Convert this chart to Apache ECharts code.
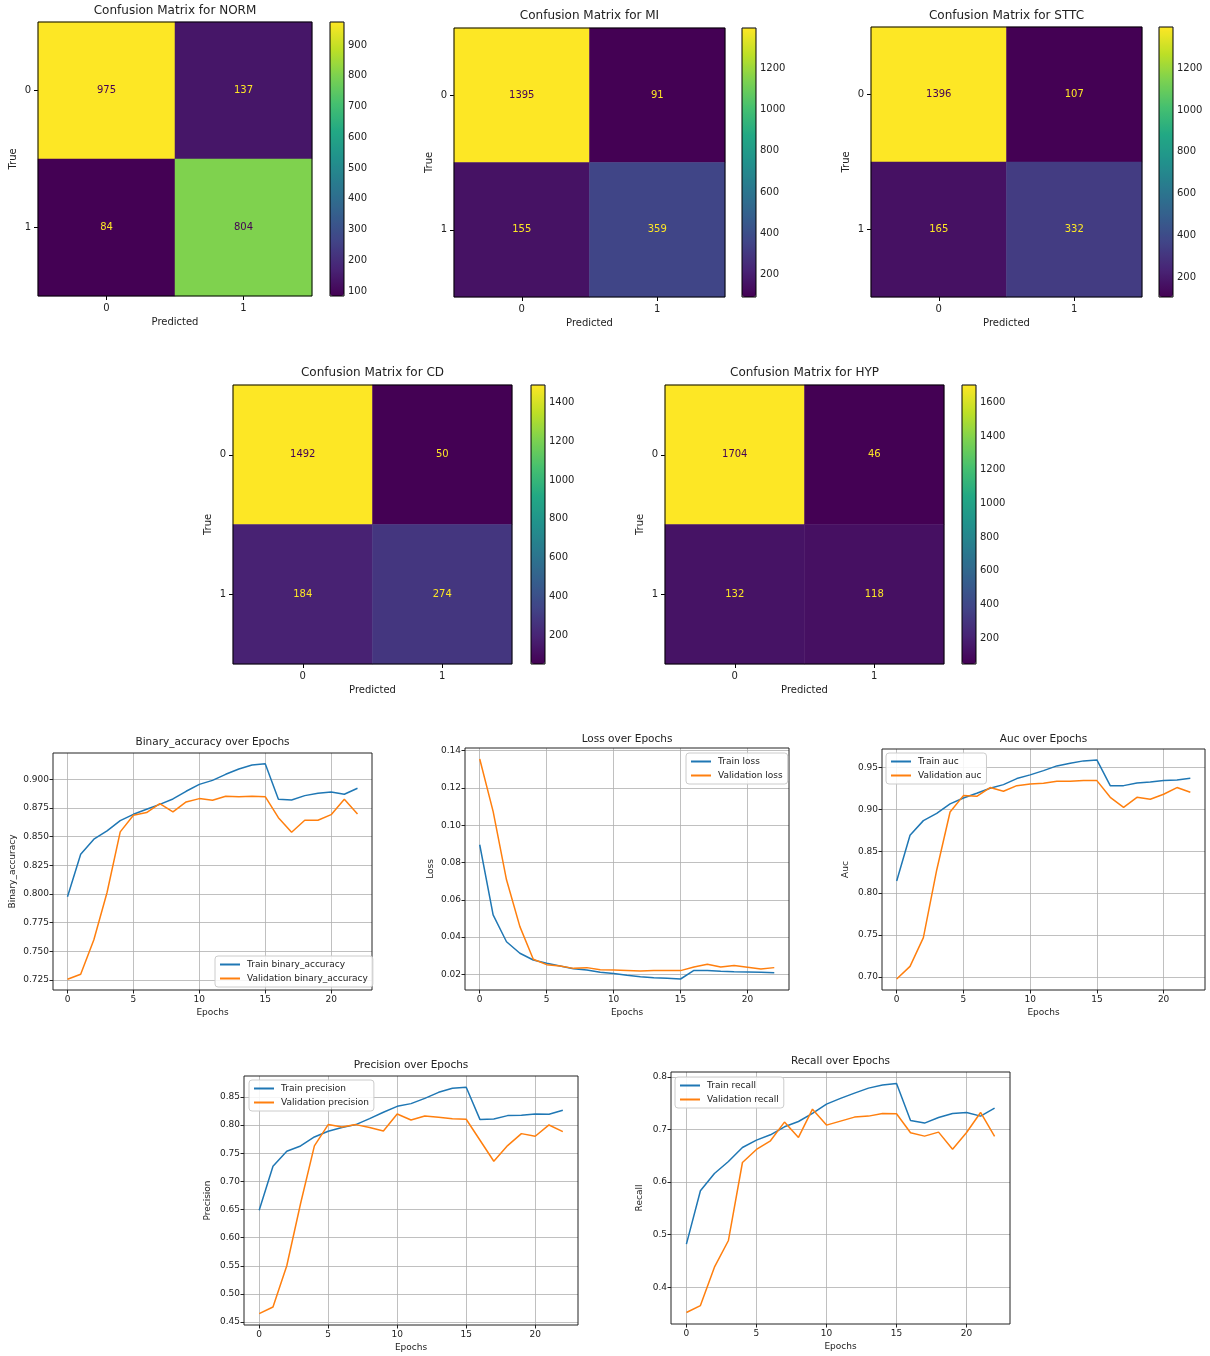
<!DOCTYPE html>
<html><head><meta charset="utf-8">
<script src="https://cdn.jsdelivr.net/npm/echarts@6/dist/echarts.min.js"></script>
<style>html,body{margin:0;padding:0;background:#fff}#c{width:1210px;height:1356px}</style>
</head><body><div id="c"></div>
<script>
// ---------------- DATA ----------------
const classes = ['0', '1'];
const cmNames = ['NORM', 'MI', 'STTC', 'CD', 'HYP'];
const cmNORM = [[975, 137], [84, 804]];
const cmMI = [[1395, 91], [155, 359]];
const cmSTTC = [[1396, 107], [165, 332]];
const cmCD = [[1492, 50], [184, 274]];
const cmHYP = [[1704, 46], [132, 118]];
const cbTicksNORM = [100, 200, 300, 400, 500, 600, 700, 800, 900];
const cbTicksMI = [200, 400, 600, 800, 1000, 1200];
const cbTicksSTTC = [200, 400, 600, 800, 1000, 1200];
const cbTicksCD = [200, 400, 600, 800, 1000, 1200, 1400];
const cbTicksHYP = [200, 400, 600, 800, 1000, 1200, 1400, 1600];

const epochs = [0,1,2,3,4,5,6,7,8,9,10,11,12,13,14,15,16,17,18,19,20,21,22];
const trainAcc = [0.7976,0.8347,0.8478,0.855,0.864,0.8695,0.8739,0.8782,0.8829,0.8896,0.8956,0.8991,0.9044,0.909,0.9125,0.9136,0.8826,0.882,0.8858,0.8878,0.889,0.887,0.8922];
const valAcc = [0.7256,0.73,0.76,0.8013,0.8542,0.8687,0.871,0.8788,0.8716,0.8803,0.8832,0.8817,0.8852,0.8849,0.8852,0.8849,0.8666,0.8539,0.8643,0.8643,0.8692,0.8826,0.8698];
const trainLoss = [0.0895,0.0519,0.0375,0.0313,0.0277,0.0259,0.0245,0.023,0.0223,0.0211,0.0204,0.0195,0.0187,0.0182,0.0179,0.0175,0.0221,0.0221,0.0216,0.0214,0.0213,0.0211,0.0209];
const valLoss = [0.1355,0.1074,0.0707,0.0456,0.0281,0.0252,0.0245,0.0232,0.0236,0.0225,0.0223,0.0221,0.0218,0.022,0.022,0.022,0.0239,0.0254,0.0239,0.0247,0.0238,0.0229,0.0236];
const trainAuc = [0.8145,0.8689,0.8864,0.8951,0.9063,0.9134,0.919,0.925,0.9293,0.9365,0.9409,0.946,0.9516,0.9548,0.9576,0.9587,0.9281,0.9281,0.9313,0.9325,0.9341,0.9349,0.9369];
const valAuc = [0.6976,0.7127,0.7469,0.8276,0.8967,0.9162,0.9154,0.9258,0.9214,0.9281,0.9301,0.9309,0.9333,0.9333,0.9341,0.9341,0.9142,0.9023,0.9142,0.9118,0.9178,0.9258,0.9202];
const trainPrec = [0.6488,0.7269,0.7536,0.763,0.779,0.7891,0.7956,0.8009,0.8115,0.8228,0.8334,0.8382,0.8476,0.8583,0.8654,0.8672,0.8098,0.8109,0.8169,0.8175,0.8198,0.8192,0.8263];
const valPrec = [0.4648,0.4766,0.55,0.6607,0.763,0.8009,0.7967,0.8009,0.7956,0.7896,0.8198,0.8092,0.8163,0.8139,0.8115,0.8104,0.7731,0.7358,0.7636,0.7849,0.7802,0.8003,0.7885];
const trainRec = [0.4819,0.5835,0.6165,0.6393,0.666,0.68,0.6901,0.7054,0.7155,0.7308,0.7486,0.7594,0.7695,0.779,0.7848,0.7879,0.7175,0.7124,0.7232,0.7308,0.7327,0.7257,0.7409];
const valRec = [0.3517,0.365,0.438,0.4889,0.6374,0.6622,0.6787,0.7143,0.6851,0.739,0.7086,0.7162,0.7238,0.7257,0.7308,0.7302,0.694,0.6876,0.6952,0.6628,0.6946,0.7327,0.687];

const epochTicks = [0, 5, 10, 15, 20];
const accTicks = [0.725, 0.750, 0.775, 0.800, 0.825, 0.850, 0.875, 0.900];
const lossTicks = [0.02, 0.04, 0.06, 0.08, 0.10, 0.12, 0.14];
const aucTicks = [0.70, 0.75, 0.80, 0.85, 0.90, 0.95];
const precTicks = [0.45, 0.50, 0.55, 0.60, 0.65, 0.70, 0.75, 0.80, 0.85];
const recTicks = [0.4, 0.5, 0.6, 0.7, 0.8];

// ---------------- LAYOUT / STYLE ----------------
const FONT = 'DejaVu Sans';
const TXT = '#222';
const viridis = ['#440154','#482475','#414487','#355f8d','#2a788e','#21918c','#22a884','#44bf70','#7ad151','#bddf26','#fde725'];

const cmMats = [cmNORM, cmMI, cmSTTC, cmCD, cmHYP];
const cbTicks = [cbTicksNORM, cbTicksMI, cbTicksSTTC, cbTicksCD, cbTicksHYP];
const cmLayout = [
  {x: 38, y: 22, w: 274, h: 274, cb: 330, ty: 5},
  {x: 454, y: 28, w: 271, h: 269, cb: 742, ty: 10},
  {x: 871, y: 27, w: 271, h: 270, cb: 1159, ty: 10},
  {x: 233, y: 385, w: 279, h: 279, cb: 531, ty: 367},
  {x: 665, y: 385, w: 279, h: 279, cb: 962, ty: 367}
];

const lineDefs = [
  {name: 'Binary_accuracy', key: 'binary_accuracy', tr: trainAcc, va: valAcc, ticks: accTicks, dec: 3,
   x: 53, y: 753, w: 319, h: 237, ty: 737, gap: 36, lg: {left: 215, top: 956}},
  {name: 'Loss', key: 'loss', tr: trainLoss, va: valLoss, ticks: lossTicks, dec: 2,
   x: 465, y: 748, w: 324, h: 242, ty: 734, gap: 30, lg: {left: 686, top: 753}},
  {name: 'Auc', key: 'auc', tr: trainAuc, va: valAuc, ticks: aucTicks, dec: 2,
   x: 882, y: 749, w: 323, h: 241, ty: 734, gap: 32, lg: {left: 886, top: 753}},
  {name: 'Precision', key: 'precision', tr: trainPrec, va: valPrec, ticks: precTicks, dec: 2,
   x: 244, y: 1076, w: 334, h: 249, ty: 1060, gap: 32, lg: {left: 249, top: 1080}},
  {name: 'Recall', key: 'recall', tr: trainRec, va: valRec, ticks: recTicks, dec: 1,
   x: 671, y: 1072, w: 339, h: 252, ty: 1056, gap: 27, lg: {left: 675, top: 1077}}
];

const titles = [], grids = [], xAxes = [], yAxes = [], series = [], visualMaps = [], legends = [];

// ---------------- CONFUSION MATRICES ----------------
cmMats.forEach((m, i) => {
  const L = cmLayout[i];
  const flat = [m[0][0], m[0][1], m[1][0], m[1][1]];
  const mn = Math.min(...flat), mx = Math.max(...flat);
  const thresh = (mn + mx) / 2;
  const gi = grids.length;
  grids.push({left: L.x, top: L.y, width: L.w, height: L.h, show: true, borderColor: '#000', borderWidth: 1, z: 10, backgroundColor: 'transparent', outerBoundsMode: 'none'});
  xAxes.push({type: 'category', gridIndex: gi, data: classes, position: 'bottom',
    axisLine: {show: false}, axisTick: {show: true, alignWithLabel: true, length: 4, lineStyle: {color: '#000'}},
    axisLabel: {fontSize: 10, color: TXT, fontFamily: FONT, margin: 7},
    splitLine: {show: false}, splitArea: {show: false},
    name: 'Predicted', nameLocation: 'middle', nameGap: 21, nameTextStyle: {fontSize: 10, color: TXT, fontFamily: FONT}});
  yAxes.push({type: 'category', gridIndex: gi, data: classes, inverse: true,
    axisLine: {show: false}, axisTick: {show: true, alignWithLabel: true, length: 4, lineStyle: {color: '#000'}},
    axisLabel: {fontSize: 10, color: TXT, fontFamily: FONT, margin: 7},
    splitLine: {show: false}, splitArea: {show: false},
    name: 'True', nameLocation: 'middle', nameGap: 20, nameTextStyle: {fontSize: 10, color: TXT, fontFamily: FONT}});
  const data = [];
  for (let r = 0; r < 2; r++) for (let c = 0; c < 2; c++) {
    const v = m[r][c];
    data.push({value: [c, r, v], label: {color: v < thresh ? viridis[10] : viridis[0]}});
  }
  const si = series.length;
  series.push({type: 'heatmap', xAxisIndex: xAxes.length - 1, yAxisIndex: yAxes.length - 1, data: data,
    label: {show: true, fontSize: 10, fontFamily: FONT}, itemStyle: {borderWidth: 0}, emphasis: {disabled: true}});
  visualMaps.push({type: 'continuous', seriesIndex: si, min: mn, max: mx, calculable: false, show: true,
    left: L.cb, top: L.y, itemWidth: 14, itemHeight: L.h, padding: 0, text: null, hoverLink: false,
    inRange: {color: viridis}, textStyle: {fontSize: 0}});
  // colorbar axis
  const cg = grids.length;
  grids.push({left: L.cb, top: L.y, width: 14, height: L.h, show: true, borderColor: '#000', borderWidth: 1, z: 10, backgroundColor: 'transparent', outerBoundsMode: 'none'});
  xAxes.push({type: 'value', gridIndex: cg, show: false, min: 0, max: 1});
  yAxes.push({type: 'value', gridIndex: cg, min: mn, max: mx, position: 'right',
    axisLine: {show: false}, splitLine: {show: false},
    axisTick: {show: true, length: 4, customValues: cbTicks[i], lineStyle: {color: '#000'}},
    axisLabel: {show: true, customValues: cbTicks[i], fontSize: 10, color: TXT, fontFamily: FONT, margin: 4,
      formatter: (v) => String(Math.round(v))}});
  titles.push({text: 'Confusion Matrix for ' + cmNames[i], left: L.x + L.w / 2, top: L.ty, textAlign: 'center', padding: 0,
    textStyle: {fontSize: 12, fontWeight: 'normal', color: TXT, fontFamily: FONT}});
});

// ---------------- TRAINING CURVES ----------------
lineDefs.forEach((d) => {
  const gi = grids.length;
  const all = d.tr.concat(d.va);
  const lo = Math.min(...all), hi = Math.max(...all), rg = hi - lo;
  const ex0 = Math.min(...epochs), ex1 = Math.max(...epochs), erg = ex1 - ex0;
  grids.push({left: d.x, top: d.y, width: d.w, height: d.h, show: true, borderColor: '#222', borderWidth: 1, z: 10, backgroundColor: 'transparent', outerBoundsMode: 'none'});
  xAxes.push({type: 'value', gridIndex: gi, min: ex0 - 0.05 * erg, max: ex1 + 0.05 * erg,
    axisLine: {show: false, onZero: false},
    axisTick: {show: true, length: 3.5, customValues: epochTicks, lineStyle: {color: '#222'}},
    axisLabel: {customValues: epochTicks, fontSize: 9, color: TXT, fontFamily: FONT, margin: 5},
    splitLine: {show: true, lineStyle: {color: '#b0b0b0', width: 0.8}},
    name: 'Epochs', nameLocation: 'middle', nameGap: 18, nameTextStyle: {fontSize: 9, color: TXT, fontFamily: FONT}});
  yAxes.push({type: 'value', gridIndex: gi, min: lo - 0.05 * rg, max: hi + 0.05 * rg,
    axisLine: {show: false, onZero: false},
    axisTick: {show: true, length: 3.5, customValues: d.ticks, lineStyle: {color: '#222'}},
    axisLabel: {customValues: d.ticks, fontSize: 9, color: TXT, fontFamily: FONT, margin: 4,
      formatter: (v) => Number(v).toFixed(d.dec)},
    splitLine: {show: true, lineStyle: {color: '#b0b0b0', width: 0.8}},
    name: d.name, nameLocation: 'middle', nameGap: d.gap, nameTextStyle: {fontSize: 9, color: TXT, fontFamily: FONT}});
  const trName = 'Train ' + d.key, vaName = 'Validation ' + d.key;
  series.push({type: 'line', name: trName, xAxisIndex: xAxes.length - 1, yAxisIndex: yAxes.length - 1,
    data: epochs.map((e, k) => [e, d.tr[k]]), symbol: 'none', lineStyle: {color: '#1f77b4', width: 1.5},
    itemStyle: {color: '#1f77b4'}, emphasis: {disabled: true}, z: 3});
  series.push({type: 'line', name: vaName, xAxisIndex: xAxes.length - 1, yAxisIndex: yAxes.length - 1,
    data: epochs.map((e, k) => [e, d.va[k]]), symbol: 'none', lineStyle: {color: '#ff7f0e', width: 1.5},
    itemStyle: {color: '#ff7f0e'}, emphasis: {disabled: true}, z: 4});
  legends.push({data: [trName, vaName], left: d.lg.left, top: d.lg.top, orient: 'vertical',
    itemWidth: 20, itemHeight: 2, itemGap: 5, icon: 'rect', selectedMode: false,
    padding: [4, 5, 4, 5], borderColor: '#cccccc', borderWidth: 1, borderRadius: 3,
    backgroundColor: 'rgba(255,255,255,0.85)', z: 20,
    textStyle: {fontSize: 9, color: TXT, fontFamily: FONT, padding: [0, 0, 0, 2]}});
  titles.push({text: d.name + ' over Epochs', left: d.x + d.w / 2, top: d.ty, textAlign: 'center', padding: 0,
    textStyle: {fontSize: 10.5, fontWeight: 'normal', color: TXT, fontFamily: FONT}});
});

const chart = echarts.init(document.getElementById('c'), null, {renderer: 'canvas'});
chart.setOption({
  animation: false,
  backgroundColor: '#fff',
  textStyle: {fontFamily: FONT},
  title: titles,
  grid: grids,
  xAxis: xAxes,
  yAxis: yAxes,
  visualMap: visualMaps,
  legend: legends,
  series: series
});
</script>
</body></html>
